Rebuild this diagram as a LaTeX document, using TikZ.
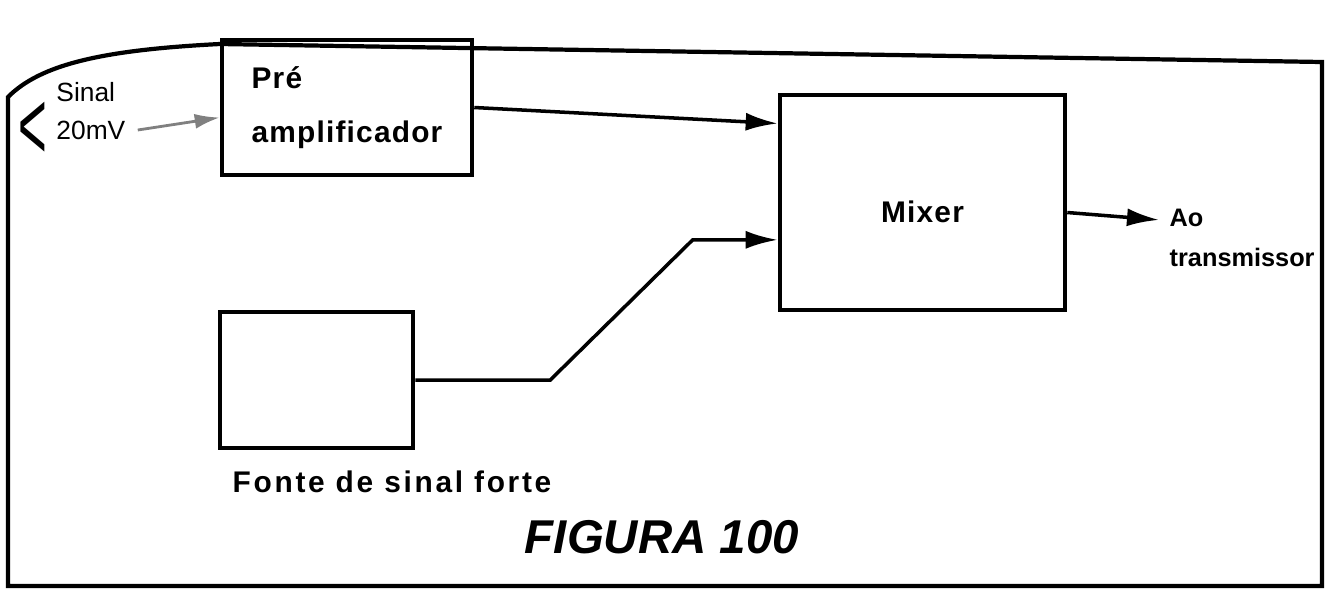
\documentclass[tikz,border=0pt]{standalone}
\usepackage{fontspec}
\setmainfont{Liberation Sans}
\newfontfamily\blockfont[LetterSpace=4]{Liberation Sans}
\newfontfamily\wideblockfont[LetterSpace=9]{Liberation Sans}
\usetikzlibrary{arrows.meta, positioning, calc}

\begin{document}
\begin{tikzpicture}[
  block/.style={draw, line width=1.3pt},
  txt/.style={font=\blockfont\bfseries\fontsize{8.5}{11.5}\selectfont},
  small/.style={font=\fontsize{7.5}{9}\selectfont, inner sep=0.5pt},
  wire/.style={line width=1pt},
  feed/.style={wire, -{Latex[length=3.2mm, width=1.8mm]}}
]
  \useasboundingbox (0,0) rectangle (13.3,-5.94);

  % Page frame
  \draw[line width=1.2pt] (0.08,-5.86) -- (0.08,-0.97) .. controls (0.4,-0.65) and (1.0,-0.5) .. (2.2,-0.44) -- (13.22,-0.62) -- (13.22,-5.86) -- cycle;

  % Input signal
  \node[font=\fontsize{28}{28}\selectfont, inner sep=0pt] (lt) at (0.33,-1.31) {\scalebox{0.5}[1]{<}};
  \node[small, anchor=west] (sinal) at (0.54,-0.92) {Sinal};
  \node[small, anchor=west] (mv) at (0.54,-1.30) {20mV};

  % Blocks
  \node[block, txt, align=left, minimum width=2.5cm, minimum height=1.35cm] (pre) at (3.47,-1.075) {Pré\\[4pt]amplificador};
  \node[block, txt, minimum width=2.85cm, minimum height=2.15cm] (mixer) at (9.225,-2.025) {\raisebox{-2mm}[0pt][0pt]{Mixer}};
  \node[block, minimum width=1.93cm, minimum height=1.36cm] (fonte) at (3.165,-3.80) {};
  \node[txt, font=\wideblockfont\bfseries\fontsize{8.5}{11.5}\selectfont, anchor=west, inner sep=0pt] (fontelbl) at (2.32,-4.82) {Fonte de sinal forte};
  \node[font=\bfseries\fontsize{7.2}{11.5}\selectfont, align=left, anchor=north west, inner sep=0pt] (out) at (11.69,-2.08) {Ao\\transmissor};

  % Caption
  \node[font=\bfseries\itshape\fontsize{13.5}{16}\selectfont] (caption) at (6.62,-5.37) {FIGURA 100};

  % Connections
  \coordinate (inA) at ($(mixer.north west)!0.14!(mixer.south west)$);
  \coordinate (inB) at ($(mixer.north west)!0.67!(mixer.south west)$);
  \draw[gray, line width=0.8pt, -{Latex[length=2.5mm, width=1.5mm]}] ([xshift=1mm]mv.east) -- ([yshift=-1mm]pre.west);
  \draw[feed] (pre.east) -- (inA);
  \draw[feed] (fonte.east) -- ++(1.35,0) -- ($(inB)+(-0.85,0)$) -- (inB);
  \draw[feed] ([yshift=-1mm]mixer.east) -- ($(out.north west)!0.2!(out.south west)+(-0.1,0)$);

\end{tikzpicture}
\end{document}
